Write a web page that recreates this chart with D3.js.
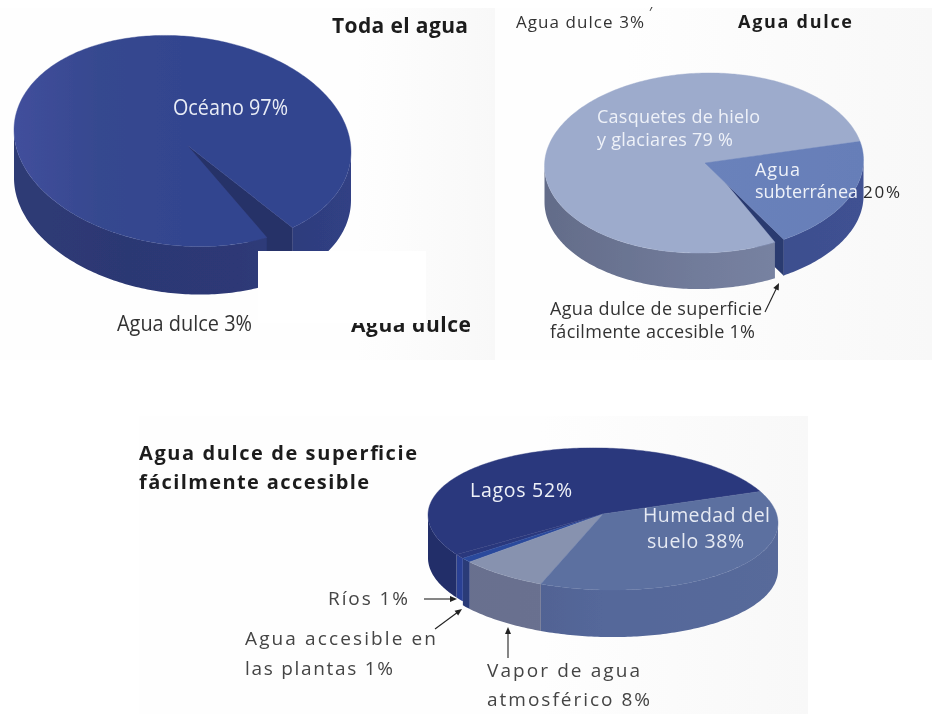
<!DOCTYPE html>
<html lang="es">
<head>
<meta charset="utf-8">
<title>Distribución del agua</title>
<script src="https://cdn.jsdelivr.net/npm/d3@7"></script>
<style>html,body{margin:0;padding:0;background:#fff}svg{display:block}text{font-family:"Open Sans","Noto Sans",sans-serif}</style>
</head>
<body>
<script>
// ---------- data ----------
const todaCategories = ["Océano", "Agua dulce"];
const todaValues = [97, 3];
const dulceCategories = ["Agua subterránea", "Agua dulce de superficie", "Casquetes de hielo y glaciares"];
const dulceValues = [20, 1, 79];
const superficieCategories = ["Humedad del suelo", "Vapor de agua atmosférico", "Agua accesible en las plantas", "Ríos", "Lagos"];
const superficieValues = [38, 8, 1, 1, 52];

// ---------- layout and style (separate from the data) ----------
const W = 933, H = 714, rad = d => d * Math.PI / 180;
const pies = [
  { cats: todaCategories, vals: todaValues, start: 150, cx: 182.5, cy: 141, rx: 168.5, ry: 105, depth: [48, 48], skew: 11, apex: [187, 145], wall: "#273268",
    top: [["#414f9c", "#36488f", "#33458f", "#33458f", "#32448f"], null],
    side: [["#2f3b75", "#2c3873", "#2d3976", "#304084"], null] },
  { cats: dulceCategories, vals: dulceValues, start: 78, cx: 704, cy: 163, rx: 159.5, ry: 90, depth: [36, 36, 36], skew: -3, apex: [705, 163], faceApex: [null, null, [709, 163]], wall: "#2b3a70",
    top: [["#6a82bb", "#6a82bb", "#667eb8"], null, ["#9dabcc", "#9dabcc", "#9dabcc"]],
    side: [["#3c4d8b", "#3c4d8b", "#3f5192"], null, ["#636c89", "#727c9b", "#7d89a8"]] },
  { cats: superficieCategories, vals: superficieValues, start: 64, cx: 603, cy: 519, rx: 175, ry: 71, depth: [47, 47, 47, 43, 43], skew: 4, apex: [603, 514], wall: "#22306c",
    top: [["#5b6fa0", "#5b6fa0", "#5b6fa0"], ["#8792af", "#8792af", "#8792af"], ["#2b4a9c", "#2b4a9c", "#2b4a9c"], ["#2c397d", "#2c397d", "#2c397d"], ["#2c397d", "#2c397d", "#2c397d"]],
    side: [["#4c5d88", "#54679a", "#586a9a"], ["#686f8e", "#6a7190", "#6d7594"], ["#2a3a78", "#2a3a78", "#2a3a78"], ["#2b3f94", "#2b3f94", "#2b3f94"], ["#212e69", "#212e69", "#212e69"]] }
];
const labels = [
  ["Océano 97%", 173, 115, 115, 21, "#e9edf6", 400],
  ["Toda el agua", 332, 33, 136, 21, "#1e1e1e", 700],
  ["Agua dulce 3%", 117, 331, 135, 21, "#333", 400],
  ["Agua dulce 3%", 516, 28, 128, 17, "#333", 400],
  ["′", 649, 17, 4, 14, "#333", 400],
  ["Agua dulce", 738, 28, 114, 18, "#1e1e1e", 700],
  ["Casquetes de hielo", 597, 123, 163, 18, "#eef1f8", 400],
  ["y glaciares 79 %", 597, 146, 136, 18, "#eef1f8", 400],
  ["Agua", 755, 176, 45, 18, "#eef1f8", 400],
  ["subterránea", 755, 198, 103, 18, "#eef1f8", 400],
  ["20%", 863, 198, 37, 17, "#2a2a2a", 400],
  ["Agua dulce de superficie", 550, 315, 212, 18, "#333", 400],
  ["fácilmente accesible 1%", 550, 338, 205, 18, "#333", 400],
  ["Agua dulce de superficie", 139, 460, 278, 20, "#1e1e1e", 700],
  ["fácilmente accesible", 139, 489, 230, 20, "#1e1e1e", 700],
  ["Lagos 52%", 470, 497, 102, 19.5, "#eef1f8", 400],
  ["Humedad del", 643, 522, 127, 19.5, "#e6eaf3", 400],
  ["suelo 38%", 647, 548, 97, 19.5, "#e6eaf3", 400],
  ["Ríos 1%", 328, 605, 80, 19, "#444", 400],
  ["Agua accesible en", 245, 645, 191, 19, "#444", 400],
  ["las plantas 1%", 245, 675, 148, 19, "#444", 400],
  ["Vapor de agua", 487, 677, 153, 19, "#444", 400],
  ["atmosférico 8%", 487, 706, 163, 19, "#444", 400]
];
const arrows = [
  [[765, 312], [779, 283]],
  [[424, 599], [457, 599]],
  [[435, 629], [462, 609]],
  [[508, 658], [508, 627]]
];
const panels = [
  [0, 8, 495, 352, .72],
  [495, 8, 437, 352, .3],
  [139, 416, 669, 298, .6]
];

// ---------- drawing ----------
const svg = d3.select("body").append("svg").attr("width", W).attr("height", H).attr("viewBox", [0, 0, W, H]);
const defs = svg.append("defs");
defs.append("filter").attr("id", "soft").attr("x", "-2%").attr("y", "-2%").attr("width", "104%").attr("height", "104%")
  .append("feGaussianBlur").attr("stdDeviation", .45);

const root = svg.append("g").attr("filter", "url(#soft)");
root.append("rect").attr("width", W).attr("height", H).attr("fill", "#fff");

panels.forEach((p, i) => {
  const g = defs.append("linearGradient").attr("id", "panel" + i);
  g.append("stop").attr("offset", p[4]).attr("stop-color", "#fefefe");
  g.append("stop").attr("offset", 1).attr("stop-color", "#f8f8f8");
  root.append("rect").attr("x", p[0]).attr("y", p[1]).attr("width", p[2]).attr("height", p[3]).attr("fill", `url(#panel${i})`);
});

let gid = 0;
const gradient = (stops, x0, x1) => {
  const id = "g" + (gid++);
  const g = defs.append("linearGradient").attr("id", id).attr("gradientUnits", "userSpaceOnUse")
    .attr("x1", x0).attr("x2", x1).attr("y1", 0).attr("y2", 0);
  stops.forEach((c, i) => g.append("stop").attr("offset", i / (stops.length - 1)).attr("stop-color", c));
  return `url(#${id})`;
};

pies.forEach(p => {
  const x = d3.scaleLinear([-1, 1], [p.cx - p.rx, p.cx + p.rx]);
  const y = d3.scaleLinear([-1, 1], [p.cy - p.ry, p.cy + p.ry]);
  const line = d3.line();
  const pt = (a, dz = 0) => [x(Math.sin(a)), y(-Math.cos(a)) + p.skew * Math.sin(a) + dz];
  const arcPts = (a0, a1, dz = 0) => {
    const n = Math.max(2, Math.ceil(Math.abs(a1 - a0) / rad(1)));
    return d3.range(n + 1).map(i => pt(a0 + (a1 - a0) * i / n, dz));
  };
  const slices = d3.pie().sort(null).startAngle(rad(p.start)).endAngle(rad(p.start + 360))(p.vals);
  const g = root.append("g").attr("class", "pie");
  const x0 = x(-1), x1 = x(1);

  // wall of any removed wedge, seen through the gap
  slices.forEach((s, i) => {
    if (p.top[i]) return;
    const e = pt(s.startAngle), eb = pt(s.startAngle, p.depth[i]);
    g.append("path").attr("fill", p.wall).attr("stroke", p.wall).attr("stroke-width", .5)
      .attr("d", line([p.apex, e, eb, [p.apex[0], p.apex[1] + p.depth[i]]]) + "Z");
  });

  // outer rim: only the front half of the pie is visible
  slices.forEach((s, i) => {
    if (!p.side[i]) return;
    [0, 2 * Math.PI].forEach(k => {
      const a0 = Math.max(s.startAngle, rad(90) + k), a1 = Math.min(s.endAngle, rad(270) + k);
      if (a1 <= a0) return;
      g.append("path").attr("fill", gradient(p.side[i], x0, x1))
        .attr("d", line([...arcPts(a0, a1), ...arcPts(a1, a0, p.depth[i])]) + "Z");
    });
  });

  // top faces, last slice first; a hairline of the same colour closes seams
  slices.slice().reverse().forEach(s => {
    const i = s.index;
    if (!p.top[i]) return;
    const apex = (p.faceApex && p.faceApex[i]) || p.apex;
    const fill = gradient(p.top[i], x0, x1);
    g.append("path").attr("fill", fill).attr("stroke", fill).attr("stroke-width", .4)
      .attr("d", line([apex, ...arcPts(s.startAngle, s.endAngle)]) + "Z");
  });
});

// white patch that hides the lower right of the first pie in the source
root.append("rect").attr("x", 258).attr("y", 251).attr("width", 168).attr("height", 72).attr("fill", "#fff");

const cut = defs.append("clipPath").attr("id", "cut");
cut.append("rect").attr("x", 340).attr("y", 323).attr("width", 88).attr("height", 20);
cut.append("rect").attr("x", 428).attr("y", 312).attr("width", 60).attr("height", 31);

const addLabel = (parent, l) => {
  const t = parent.append("text").attr("x", l[1]).attr("y", l[2])
    .attr("font-size", l[4]).attr("fill", l[5]).attr("font-weight", l[6]).text(l[0]);
  const natural = t.node().getComputedTextLength();
  t.attr("textLength", l[3]).attr("lengthAdjust", natural > l[3] ? "spacingAndGlyphs" : "spacing");
};
labels.forEach(l => addLabel(root, l));
addLabel(root.append("g").attr("clip-path", "url(#cut)"), ["Agua dulce", 351, 332, 120, 21, "#1e1e1e", 700]);

// arrows
arrows.forEach(([a, b]) => {
  const ang = Math.atan2(b[1] - a[1], b[0] - a[0]);
  const back = (d, o) => [b[0] - d * Math.cos(ang) + o * Math.sin(ang), b[1] - d * Math.sin(ang) - o * Math.cos(ang)];
  root.append("path").attr("stroke", "#222").attr("stroke-width", 1.1).attr("fill", "none").attr("d", d3.line()([a, back(5, 0)]));
  root.append("path").attr("fill", "#222").attr("d", d3.line()([b, back(7, 3), back(7, -3)]) + "Z");
});
</script>
</body>
</html>
